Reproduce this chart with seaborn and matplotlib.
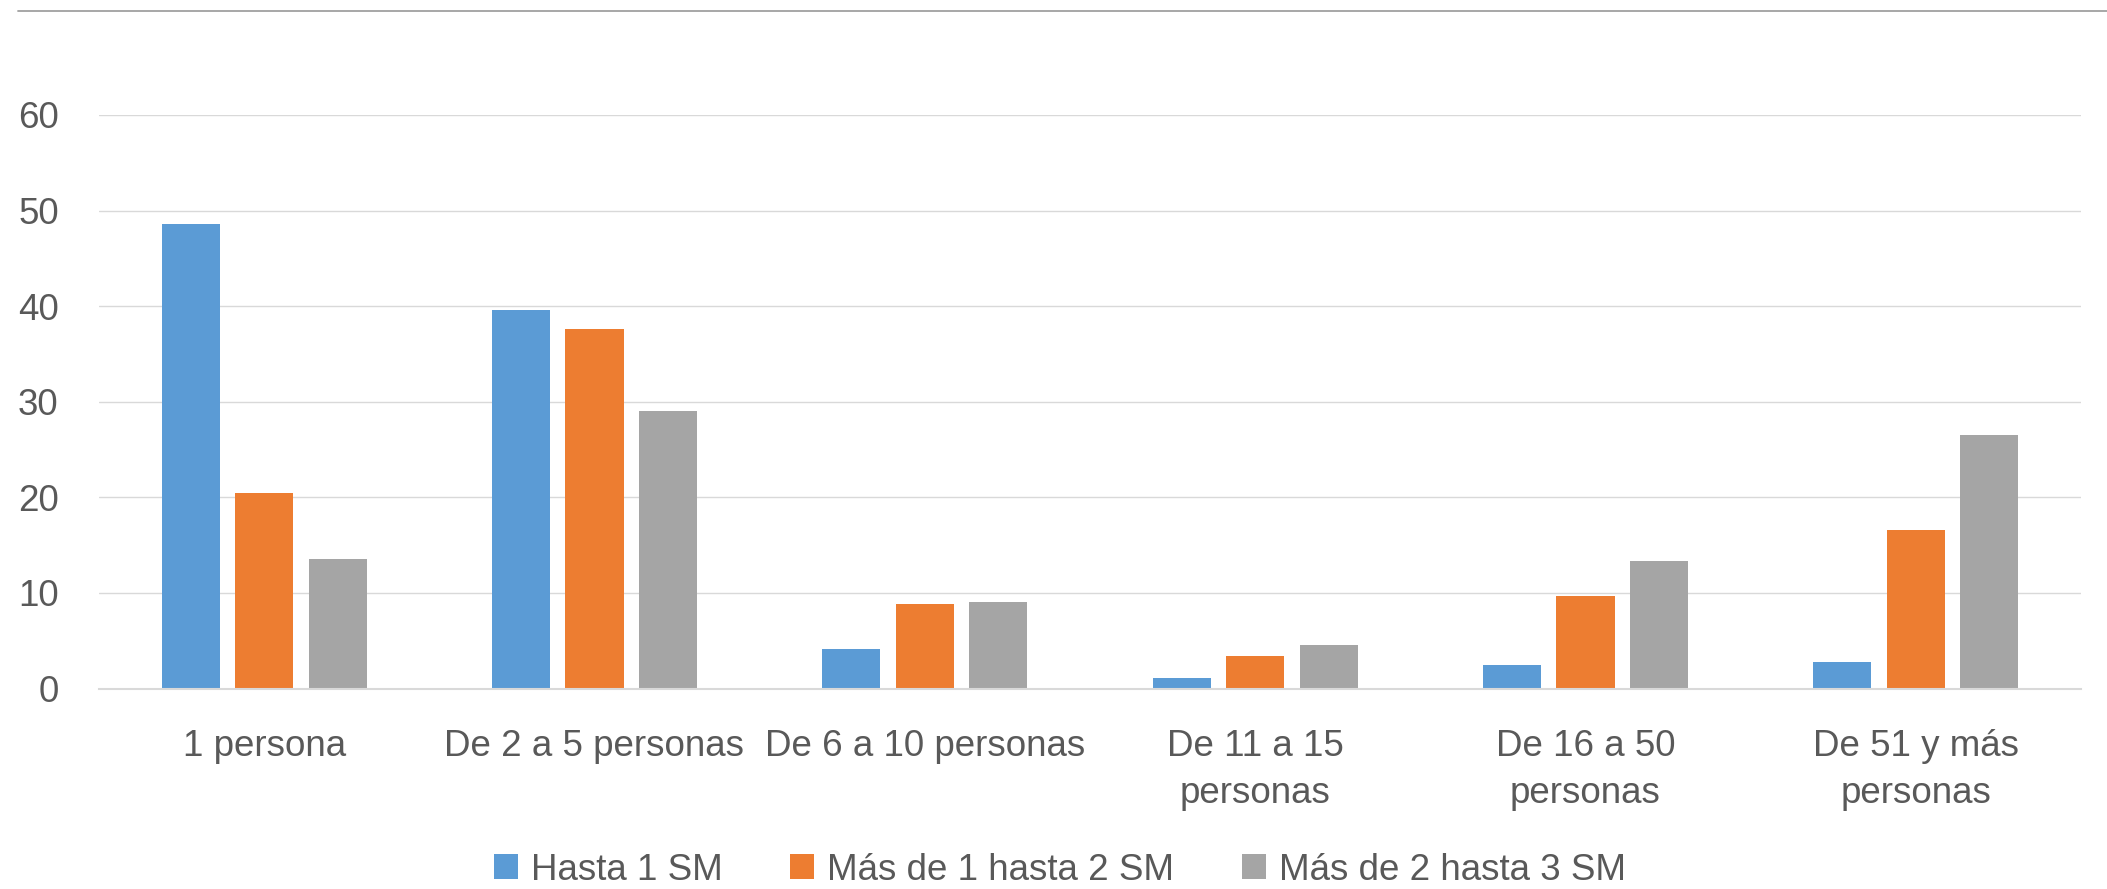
import pandas as pd
import seaborn as sns
import matplotlib.pyplot as plt
from matplotlib.lines import Line2D
from matplotlib.patches import Patch

# datos
categorias = ["1 persona", "De 2 a 5 personas", "De 6 a 10 personas",
              "De 11 a 15\npersonas", "De 16 a 50\npersonas", "De 51 y más\npersonas"]
series = ["Hasta 1 SM", "Más de 1 hasta 2 SM", "Más de 2 hasta 3 SM"]
hasta_1 = [48.6, 39.6, 4.1, 1.1, 2.5, 2.8]
de_1_a_2 = [20.5, 37.6, 8.8, 3.4, 9.7, 16.6]
de_2_a_3 = [13.6, 29.0, 9.1, 4.5, 13.3, 26.5]
colores = ["#5B9BD5", "#ED7D31", "#A5A5A5"]

rows = []
for serie, valores in zip(series, [hasta_1, de_1_a_2, de_2_a_3]):
    for cat, v in zip(categorias, valores):
        rows.append({"categoria": cat, "serie": serie, "valor": v})
df = pd.DataFrame(rows)

sns.set_style("white")
plt.rcParams['font.family'] = ['Liberation Sans', 'DejaVu Sans']
texto = "#595959"

fig = plt.figure(figsize=(21.07, 8.89), dpi=100)
ax = fig.add_axes([99 / 2107, 1 - 688.5 / 889, (2081 - 99) / 2107, (688.5 - 115) / 889])

sns.barplot(data=df, x="categoria", y="valor", hue="serie", palette=colores,
            saturation=1, width=0.668, gap=0.21, linewidth=0, errorbar=None,
            legend=False, ax=ax)

ax.set_xlim(-0.5, 5.5)
ax.set_ylim(0, 60)
ax.set_yticks(range(0, 61, 10))
ax.set_xlabel("")
ax.set_ylabel("")
ax.grid(axis="y", color="#D9D9D9", linewidth=1.0)
ax.set_axisbelow(True)
for s in ["top", "right", "left"]:
    ax.spines[s].set_visible(False)
ax.spines["bottom"].set_color("#D9D9D9")
ax.spines["bottom"].set_linewidth(1.5)

ax.tick_params(axis="y", length=0, pad=29, labelsize=26.5, labelcolor=texto)
ax.tick_params(axis="x", length=0, pad=29, labelsize=26.5, labelcolor=texto)
for lbl in ax.get_xticklabels():
    lbl.set_linespacing(1.45)

# linea superior
fig.add_artist(Line2D([18 / 2107, 1], [1 - 10.8 / 889, 1 - 10.8 / 889],
                      color="#A0A0A0", linewidth=1.3, transform=fig.transFigure))

handles = [Patch(facecolor=c, edgecolor="none") for c in colores]
leg = fig.legend(handles, series, loc="center", bbox_to_anchor=(0.503, 1 - 870 / 889),
                 ncol=3, frameon=False, fontsize=26.5, handlelength=0.65, handleheight=0.65,
                 handletextpad=0.35, columnspacing=1.84, borderaxespad=0, borderpad=0)
for t in leg.get_texts():
    t.set_color(texto)

fig.savefig("out.png", dpi=100)
